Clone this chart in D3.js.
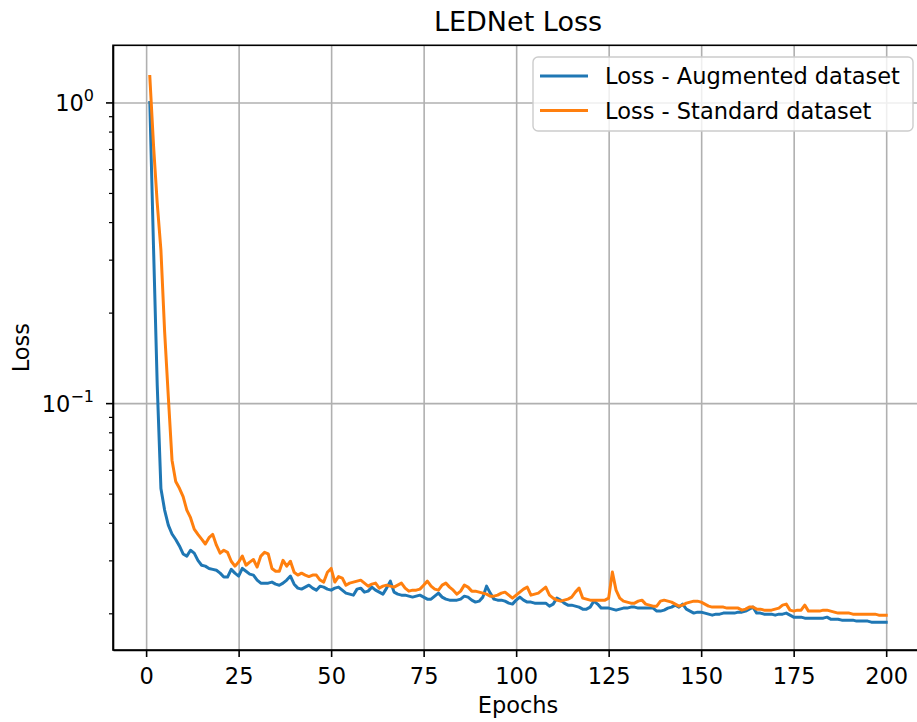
<!DOCTYPE html>
<meta charset="utf-8">
<style>
body { margin: 0; background: #fff; }
text { font-family: "DejaVu Sans", sans-serif; fill: #000; }
.grid line { stroke: #b0b0b0; stroke-width: 1.6px; }
.grid path { display: none; }
.axis path, .axis line { stroke: #000; stroke-width: 1.6px; }
.minor line { stroke: #000; stroke-width: 1.2px; }
.minor path { display: none; }
</style>
<svg width="917" height="722"></svg>
<script src="https://cdn.jsdelivr.net/npm/d3@7"></script>
<script>

// epochs 1..200
var epochs = d3.range(1, 201);

var lossAugmented = [
  1.0, 0.33, 0.115, 0.052, 0.0441, 0.0393, 0.0367, 0.0352, 0.0335, 0.0315,
  0.0310, 0.0324, 0.0317, 0.0300, 0.0289, 0.0287, 0.0282, 0.0280, 0.0278, 0.0272,
  0.0264, 0.0264, 0.0280, 0.0272, 0.0266, 0.0282, 0.0276, 0.0270, 0.0268, 0.0258,
  0.0252, 0.0252, 0.0252, 0.0254, 0.0250, 0.0248, 0.0252, 0.0258, 0.0266, 0.0250,
  0.02425, 0.02407, 0.02444, 0.02481, 0.02425, 0.02388, 0.02462, 0.02444, 0.02407, 0.02388,
  0.02425, 0.02444, 0.02388, 0.02334, 0.02316, 0.02298, 0.02407, 0.02425, 0.02352, 0.02370,
  0.02444, 0.02388, 0.02352, 0.02316, 0.02425, 0.02559, 0.02352, 0.02316, 0.02298, 0.02298,
  0.02281, 0.02264, 0.02281, 0.02298, 0.02264, 0.02229, 0.02229, 0.02281, 0.02334, 0.02264,
  0.02229, 0.02212, 0.02212, 0.02212, 0.02229, 0.02281, 0.02264, 0.02212, 0.02179, 0.02195,
  0.02264, 0.02462, 0.02334, 0.02229, 0.02212, 0.02212, 0.02195, 0.02162, 0.02146, 0.02212,
  0.02264, 0.02212, 0.02179, 0.02179, 0.02162, 0.02162, 0.02162, 0.02162, 0.02113, 0.02146,
  0.02246, 0.02212, 0.02162, 0.02129, 0.02129, 0.02113, 0.02097, 0.02065, 0.02065, 0.02097,
  0.02195, 0.02146, 0.02081, 0.02081, 0.02081, 0.02065, 0.02049, 0.02065, 0.02081, 0.02081,
  0.02097, 0.02097, 0.02081, 0.02081, 0.02081, 0.02081, 0.02081, 0.02034, 0.02034, 0.02049,
  0.02081, 0.02097, 0.02129, 0.02097, 0.02146, 0.02065, 0.02034, 0.02003, 0.02018, 0.02018,
  0.02003, 0.01987, 0.01972, 0.01987, 0.01987, 0.02003, 0.02003, 0.02003, 0.02003, 0.02018,
  0.02018, 0.02034, 0.02065, 0.02097, 0.02003, 0.02003, 0.01987, 0.01987, 0.01987, 0.01972,
  0.01987, 0.01987, 0.02003, 0.01972, 0.01942, 0.01942, 0.01942, 0.01927, 0.01927, 0.01927,
  0.01927, 0.01927, 0.01927, 0.01942, 0.01912, 0.01912, 0.01912, 0.01898, 0.01898, 0.01898,
  0.01898, 0.01884, 0.01884, 0.01884, 0.01884, 0.01869, 0.01869, 0.01869, 0.01869, 0.01869
];

var lossStandard = [
  1.22, 0.72, 0.463, 0.323, 0.173, 0.105, 0.0646, 0.0549, 0.0521, 0.0489,
  0.0441, 0.0416, 0.0381, 0.0366, 0.0353, 0.0340, 0.0357, 0.0366, 0.0337, 0.0317,
  0.0324, 0.0319, 0.0298, 0.0287, 0.0296, 0.0310, 0.0289, 0.0296, 0.0302, 0.0285,
  0.0310, 0.0319, 0.0315, 0.0282, 0.0276, 0.0276, 0.0300, 0.0287, 0.0298, 0.0274,
  0.0268, 0.0272, 0.0268, 0.0265, 0.0268, 0.0268, 0.0258, 0.0254, 0.0274, 0.0282,
  0.0254, 0.0265, 0.0262, 0.0248, 0.02520, 0.02539, 0.02559, 0.02578, 0.02520, 0.02462,
  0.02500, 0.02520, 0.02425, 0.02462, 0.02481, 0.02462, 0.02444, 0.02481, 0.02520, 0.02425,
  0.02370, 0.02388, 0.02388, 0.02407, 0.02481, 0.02559, 0.02462, 0.02407, 0.02388, 0.02481,
  0.02520, 0.02444, 0.02388, 0.02316, 0.02370, 0.02481, 0.02444, 0.02370, 0.02370, 0.02352,
  0.02334, 0.02316, 0.02281, 0.02281, 0.02298, 0.02334, 0.02352, 0.02298, 0.02246, 0.02298,
  0.02352, 0.02407, 0.02444, 0.02298, 0.02316, 0.02334, 0.02388, 0.02444, 0.02298, 0.02246,
  0.02212, 0.02195, 0.02212, 0.02229, 0.02264, 0.02352, 0.02425, 0.02246, 0.02229, 0.02212,
  0.02212, 0.02212, 0.02212, 0.02212, 0.02246, 0.02742, 0.02388, 0.02246, 0.02195, 0.02179,
  0.02162, 0.02162, 0.02195, 0.02212, 0.02146, 0.02129, 0.02113, 0.02113, 0.02195, 0.02212,
  0.02195, 0.02179, 0.02146, 0.02113, 0.02129, 0.02162, 0.02179, 0.02195, 0.02195, 0.02179,
  0.02146, 0.02113, 0.02097, 0.02097, 0.02097, 0.02097, 0.02081, 0.02081, 0.02081, 0.02081,
  0.02049, 0.02065, 0.02097, 0.02097, 0.02065, 0.02065, 0.02049, 0.02049, 0.02049, 0.02065,
  0.02081, 0.02129, 0.02146, 0.02049, 0.02034, 0.02049, 0.02049, 0.02129, 0.02034, 0.02034,
  0.02034, 0.02034, 0.02049, 0.02049, 0.02034, 0.02018, 0.02003, 0.02003, 0.02003, 0.02003,
  0.01987, 0.01987, 0.01987, 0.01987, 0.01987, 0.01987, 0.01987, 0.01972, 0.01972, 0.01972
];

var xTicks = [0, 25, 50, 75, 100, 125, 150, 175, 200];
var yMajor = [0.1, 1];
var yMinor = [0.02, 0.03, 0.04, 0.05, 0.06, 0.07, 0.08, 0.09,
              0.2, 0.3, 0.4, 0.5, 0.6, 0.7, 0.8, 0.9];
var seriesNames = ["Loss - Augmented dataset", "Loss - Standard dataset"];
var seriesColors = ["#1f77b4", "#ff7f0e"];

var svg = d3.select("svg");
var plotLeft = 113, plotRight = 923, plotTop = 45.3, plotBottom = 650;

var x = d3.scaleLinear().domain([-8.95, 209.95]).range([plotLeft, plotRight]);
var y = d3.scaleLog().domain([Math.pow(10, -1.821), Math.pow(10, 0.19)]).range([plotBottom, plotTop]);

svg.append("rect").attr("width", 917).attr("height", 722).attr("fill", "#fff");

// grid
svg.append("g")
    .attr("class", "grid")
    .attr("transform", "translate(0," + plotBottom + ")")
    .call(d3.axisBottom(x).tickValues(xTicks).tickSize(-(plotBottom - plotTop)).tickFormat(""));
svg.append("g")
    .attr("class", "grid")
    .attr("transform", "translate(" + plotLeft + ",0)")
    .call(d3.axisLeft(y).tickValues(yMajor).tickSize(-(plotRight - plotLeft)).tickFormat(""));

svg.append("clipPath").attr("id", "plotclip")
  .append("rect")
    .attr("x", plotLeft).attr("y", plotTop)
    .attr("width", plotRight - plotLeft).attr("height", plotBottom - plotTop);

var line = d3.line()
    .x(function(d) { return x(d[0]); })
    .y(function(d) { return y(d[1]); });

[lossAugmented, lossStandard].forEach(function(vals, i) {
  svg.append("path")
      .datum(epochs.map(function(e, j) { return [e, vals[j]]; }))
      .attr("clip-path", "url(#plotclip)")
      .attr("fill", "none")
      .attr("stroke", seriesColors[i])
      .attr("stroke-width", 3)
      .attr("stroke-linejoin", "round")
      .attr("stroke-linecap", "square")
      .attr("d", line);
});

// axes
var xAxis = svg.append("g")
    .attr("class", "axis")
    .attr("transform", "translate(0," + plotBottom + ")")
    .call(d3.axisBottom(x).tickValues(xTicks).tickSize(7).tickSizeOuter(0).tickPadding(6));
xAxis.selectAll("text").style("font-size", "22.5px").attr("dy", "0.95em");

svg.append("g")
    .attr("class", "minor")
    .attr("transform", "translate(" + plotLeft + ",0)")
    .call(d3.axisLeft(y).tickValues(yMinor).tickSize(4).tickFormat(""));

var yAxis = svg.append("g")
    .attr("class", "axis")
    .attr("transform", "translate(" + plotLeft + ",0)")
    .call(d3.axisLeft(y).tickValues(yMajor).tickSize(7).tickSizeOuter(0).tickFormat(""));

yAxis.selectAll(".tick").each(function(d) {
  var t = d3.select(this).append("text")
      .attr("x", -19)
      .attr("y", 8)
      .attr("text-anchor", "end")
      .style("font-size", "22.5px");
  t.append("tspan").text("10");
  t.append("tspan").attr("dy", -10).style("font-size", "16px")
      .text(Math.round(Math.log10(d)) === 0 ? "0" : "\u22121");
});

// frame
svg.append("rect")
    .attr("x", plotLeft).attr("y", plotTop)
    .attr("width", plotRight - plotLeft).attr("height", plotBottom - plotTop)
    .attr("fill", "none").attr("stroke", "#000").attr("stroke-width", 1.6);

// labels
svg.append("text")
    .attr("x", (plotLeft + plotRight) / 2).attr("y", 31)
    .attr("text-anchor", "middle").style("font-size", "27px")
    .text("LEDNet Loss");
svg.append("text")
    .attr("x", (plotLeft + plotRight) / 2).attr("y", 713)
    .attr("text-anchor", "middle").style("font-size", "22.5px")
    .text("Epochs");
svg.append("text")
    .attr("transform", "translate(29," + (plotTop + plotBottom) / 2 + ") rotate(-90)")
    .attr("text-anchor", "middle").style("font-size", "22.5px")
    .text("Loss");

// legend
var legend = svg.append("g").attr("transform", "translate(533,57)");
legend.append("rect")
    .attr("width", 380).attr("height", 74).attr("rx", 5)
    .attr("fill", "#fff").attr("fill-opacity", 0.8)
    .attr("stroke", "#cccccc").attr("stroke-width", 1.4);
seriesNames.forEach(function(name, i) {
  var row = legend.append("g").attr("transform", "translate(0," + (19 + i * 34.5) + ")");
  row.append("line")
      .attr("x1", 7).attr("x2", 55)
      .attr("stroke", seriesColors[i]).attr("stroke-width", 3);
  row.append("text")
      .attr("x", 72).attr("y", 8)
      .style("font-size", "22.5px")
      .text(name);
});

</script>
